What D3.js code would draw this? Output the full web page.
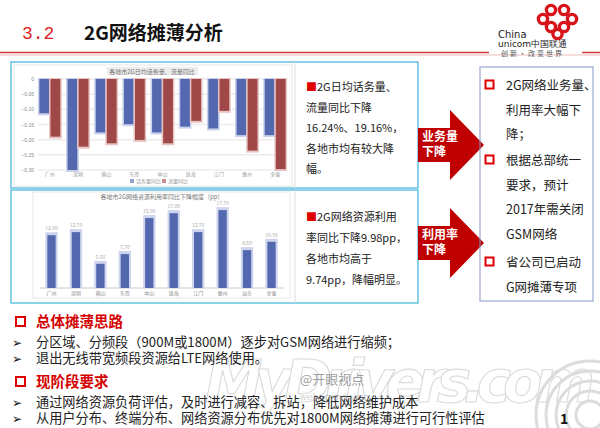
<!DOCTYPE html>
<html>
<head>
<meta charset="utf-8">
<script src="https://cdn.jsdelivr.net/npm/d3@7"></script>
<style>
  body { margin: 0; background: #fff; }
  svg { display: block; font-family: "Noto Sans CJK SC", sans-serif; }
</style>
</head>
<body>
<div id="slide"></div>
<script>
// chart 1: 2G traffic yoy by city (blurred in source, values estimated)
var cities1 = ["广州", "深圳", "佛山", "东莞", "中山", "珠海", "江门", "惠州", "全省"];
var voiceYoY = [-11.3, -30.0, -17.6, -14.9, -17.6, -15.7, -16.3, -18.5, -18.5];
var dataYoY = [-19.0, -22.3, -21.2, -20.1, -21.2, -13.8, -10.5, -23.6, -29.7];
var yTicks1 = [0, -5, -10, -15, -20, -25, -30];

// chart 2: 2G utilisation drop (pp)
var cities2 = ["广州", "深圳", "佛山", "东莞", "中山", "珠海", "江门", "惠州", "汕头", "全省"];
var utilDrop = [12.0, 12.7, 5.5, 7.7, 15.9, 17.0, 12.7, 17.7, 8.6, 10.5];

var box1Text = ["■2G日均话务量、", "流量同比下降", "16.24%、19.16%，", "各地市均有较大降", "幅。"];
var box2Text = ["■2G网络资源利用", "率同比下降9.98pp，", "各地市均高于", "9.74pp，降幅明显。"];
var rightItems = [["2G网络业务量、", "利用率大幅下", "降；"], ["根据总部统一", "要求，预计", "2017年需关闭", "GSM网络"], ["省公司已启动", "G网摊薄专项"]];
var section1 = ["分区域、分频段（900M或1800M）逐步对GSM网络进行缩频；", "退出无线带宽频段资源给LTE网络使用。"];
var section2 = ["通过网络资源负荷评估，及时进行减容、拆站，降低网络维护成本", "从用户分布、终端分布、网络资源分布优先对1800M网络摊薄进行可行性评估"];

var W = 600, H = 428;
var svg = d3.select("#slide").append("svg").attr("width", W).attr("height", H);

// ---- header ----
svg.append("text").attr("x", 22).attr("y", 39).attr("fill", "#e02020")
    .style("font-size", "18px").style("font-family", "Liberation Mono, monospace").text("3.2");
svg.append("text").attr("x", 84).attr("y", 40).attr("fill", "#111")
    .style("font-size", "19px").style("font-weight", "bold").text("2G网络摊薄分析");
svg.append("line").attr("x1", 0).attr("x2", 489).attr("y1", 52.5).attr("y2", 52.5).attr("stroke", "#d43a3a").attr("stroke-width", 1.5);
svg.append("line").attr("x1", 582).attr("x2", 600).attr("y1", 52.5).attr("y2", 52.5).attr("stroke", "#d43a3a").attr("stroke-width", 1.5);
svg.append("line").attr("x1", 0).attr("x2", 600).attr("y1", 55).attr("y2", 55).attr("stroke", "#f6dede").attr("stroke-width", 2);

// logo
var logo = svg.append("g").attr("fill", "none").attr("stroke", "#d7141a").attr("stroke-width", 3.4);
[[551, 10], [564, 10], [543, 19], [572, 19], [551, 27], [564, 27], [557.5, 34]].forEach(function (c) {
    logo.append("circle").attr("cx", c[0]).attr("cy", c[1]).attr("r", 4.6);
});
svg.append("text").attr("x", 498).attr("y", 38).style("font-size", "10px").style("font-family", "DejaVu Sans").attr("fill", "#222").text("China");
svg.append("text").attr("x", 498).attr("y", 47).style("font-size", "9px").style("font-family", "DejaVu Sans").attr("fill", "#222").text("unicom中国联通");
svg.append("text").attr("x", 501).attr("y", 56).style("font-size", "7px").attr("fill", "#555").attr("letter-spacing", "2px").text("创新·改变世界");

// ---- panel boxes ----
var cyan = "#4db8dc";
svg.append("rect").attr("x", 11).attr("y", 62).attr("width", 407).attr("height", 126).attr("fill", "none").attr("stroke", cyan).attr("stroke-width", 1.3);
svg.append("rect").attr("x", 11).attr("y", 190).attr("width", 407).attr("height", 113).attr("fill", "none").attr("stroke", cyan).attr("stroke-width", 1.3);
svg.append("line").attr("x1", 295).attr("x2", 295).attr("y1", 62).attr("y2", 188).attr("stroke", "#ddd");
svg.append("line").attr("x1", 295).attr("x2", 295).attr("y1", 190).attr("y2", 303).attr("stroke", "#ddd");

// ---- chart 1 ----
var c1 = svg.append("g");
c1.append("rect").attr("x", 14).attr("y", 65).attr("width", 278).attr("height", 121).attr("fill", "none").attr("stroke", "#e6e6e6");
var y1 = d3.scaleLinear().domain([0, -30]).range([79, 170]);
var x1 = d3.scaleBand().domain(cities1).range([38, 287]).paddingInner(0.26).paddingOuter(0.05);
var xs1 = d3.scaleBand().domain(["v", "d"]).range([0, x1.bandwidth()]).paddingInner(0.12);

c1.selectAll(".grid1").data(yTicks1).enter().append("line")
    .attr("x1", 38).attr("x2", 287).attr("y1", function (d) { return y1(d); }).attr("y2", function (d) { return y1(d); })
    .attr("stroke", "#ececec").attr("stroke-width", 1.5);
var ax1 = c1.append("g").attr("transform", "translate(38,0)")
    .call(d3.axisLeft(y1).tickValues(yTicks1).tickSize(0).tickPadding(4).tickFormat(function (d) { return d === 0 ? "0" : d3.format(".2f")(d / 100); }));
ax1.select(".domain").remove();
ax1.selectAll("text").attr("fill", "#888").style("font-size", "5px");

function drawPairs(vals, key, col, halo) {
    var g = c1.append("g");
    g.selectAll("rect.h").data(vals).enter().append("rect")
        .attr("x", function (d, i) { return x1(cities1[i]) + xs1(key) - 1.5; })
        .attr("width", xs1.bandwidth() + 3)
        .attr("y", y1(0) - 1)
        .attr("height", function (d) { return y1(d) - y1(0) + 3; })
        .attr("fill", halo);
    g.selectAll("rect.b").data(vals).enter().append("rect")
        .attr("x", function (d, i) { return x1(cities1[i]) + xs1(key); })
        .attr("width", xs1.bandwidth())
        .attr("y", y1(0))
        .attr("height", function (d) { return y1(d) - y1(0); })
        .attr("fill", col);
}
drawPairs(voiceYoY, "v", "#5468b0", "#c9d1ec");
drawPairs(dataYoY, "d", "#a04848", "#e8c4c4");

c1.selectAll(".xl1").data(cities1).enter().append("text")
    .attr("x", function (d) { return x1(d) + x1.bandwidth() / 2; }).attr("y", 176)
    .attr("text-anchor", "middle").attr("fill", "#999").style("font-size", "5px").text(function (d) { return d; });
c1.append("rect").attr("x", 107).attr("y", 67).attr("width", 91).attr("height", 8).attr("fill", "#ececec");
c1.append("text").attr("x", 152).attr("y", 73.5).attr("text-anchor", "middle").attr("fill", "#777").style("font-size", "6px").text("各地市2G日均话务量、流量同比");
// legend
var lg = c1.append("g").attr("transform", "translate(130,182)");
[["#5468b0", "话务量同比"], ["#a04848", "流量同比"]].forEach(function (l, i) {
    lg.append("rect").attr("x", i * 32).attr("y", -3).attr("width", 4).attr("height", 4).attr("fill", l[0]).attr("opacity", 0.6);
    lg.append("text").attr("x", i * 32 + 6).attr("y", 1).attr("fill", "#999").style("font-size", "5px").text(l[1]);
});

// ---- chart 2 ----
var c2 = svg.append("g");
c2.append("rect").attr("x", 33).attr("y", 192).attr("width", 257).attr("height", 106).attr("fill", "none").attr("stroke", "#e8e8e8");
var y2 = d3.scaleLinear().domain([0, 20]).range([288, 200]);
var x2 = d3.scaleBand().domain(cities2).range([40, 283]).paddingInner(0.66).paddingOuter(0.3);
c2.append("line").attr("x1", 40).attr("x2", 284).attr("y1", y2(0)).attr("y2", y2(0)).attr("stroke", "#e4e4e4").attr("stroke-width", 2);
c2.selectAll("rect.h").data(utilDrop).enter().append("rect")
    .attr("x", function (d, i) { return x2(cities2[i]) - 2; })
    .attr("width", x2.bandwidth() + 4)
    .attr("y", function (d) { return y2(d) - 3; })
    .attr("height", function (d) { return y2(0) - y2(d) + 3; })
    .attr("fill", "#cdd4ee");
c2.selectAll("rect.b").data(utilDrop).enter().append("rect")
    .attr("x", function (d, i) { return x2(cities2[i]); })
    .attr("width", x2.bandwidth())
    .attr("y", function (d) { return y2(d); })
    .attr("height", function (d) { return y2(0) - y2(d); })
    .attr("fill", "#5468b0");
c2.selectAll(".vl").data(utilDrop).enter().append("text")
    .attr("x", function (d, i) { return x2(cities2[i]) + x2.bandwidth() / 2; })
    .attr("y", function (d) { return y2(d) - 5; })
    .attr("text-anchor", "middle").attr("fill", "#aaa").style("font-size", "5px")
    .text(function (d) { return d.toFixed(2); });
c2.selectAll(".xl2").data(cities2).enter().append("text")
    .attr("x", function (d) { return x2(d) + x2.bandwidth() / 2; }).attr("y", 295)
    .attr("text-anchor", "middle").attr("fill", "#888").style("font-size", "5px").text(function (d) { return d; });
c2.append("text").attr("x", 162).attr("y", 199).attr("text-anchor", "middle").attr("fill", "#777").style("font-size", "6px")
    .text("各地市2G网络资源利用率同比下降幅度（pp）");

// ---- text boxes ----
function lines(arr, x, y0, dy, size) {
    arr.forEach(function (s, i) {
        var t = svg.append("text").attr("x", x).attr("y", y0 + i * dy).attr("fill", "#222").style("font-size", size + "px");
        if (s[0] === "■") {
            t.append("tspan").attr("fill", "#e00000").text("■");
            t.append("tspan").text(s.slice(1));
        } else t.text(s);
    });
}
lines(box1Text, 306, 91, 20.5, 11);
lines(box2Text, 306, 221, 21, 11);

// ---- arrows ----
function arrow(cy, label) {
    var p = d3.path();
    p.moveTo(418, cy - 17); p.lineTo(450, cy - 17); p.lineTo(450, cy - 35); p.lineTo(484, cy);
    p.lineTo(450, cy + 35); p.lineTo(450, cy + 17); p.lineTo(418, cy + 17); p.closePath();
    svg.append("path").attr("d", p.toString()).attr("fill", "#c00000");
    label.forEach(function (s, i) {
        svg.append("text").attr("x", 422).attr("y", cy - 4 + i * 15).attr("fill", "#fff")
            .style("font-size", "12px").style("font-weight", "bold").text(s);
    });
}
arrow(145, ["业务量", "下降"]);
arrow(243, ["利用率", "下降"]);

// ---- right box ----
svg.append("rect").attr("x", 480).attr("y", 67).attr("width", 113).attr("height", 234).attr("fill", "none").attr("stroke", "#8595c8").attr("stroke-width", 1);
var ry = [90, 165, 267];
var rowH = 24.5;
rightItems.forEach(function (item, k) {
    svg.append("rect").attr("x", 485.5).attr("y", ry[k] - 9.5).attr("width", 8).attr("height", 8)
        .attr("fill", "none").attr("stroke", "#e00000").attr("stroke-width", 2);
    item.forEach(function (s, i) {
        svg.append("text").attr("x", 506).attr("y", ry[k] + i * rowH).attr("fill", "#222").style("font-size", "12.5px").text(s);
    });
});

// ---- watermark ----
svg.append("text").attr("x", 205).attr("y", 402).attr("fill", "#fff").attr("stroke", "#dadada").attr("stroke-width", 1.1)
    .style("font-size", "58px").style("font-style", "italic").style("font-weight", "bold").style("font-family", "DejaVu Sans")
    .attr("textLength", 390).text("MyDrivers.com");
var arcs = svg.append("g").attr("fill", "none").attr("stroke", "#dcdcdc").attr("stroke-width", 3);
[14, 24, 34, 44, 54].forEach(function (r) {
    arcs.append("circle").attr("cx", 590).attr("cy", 415).attr("r", r);
});

// ---- bottom sections ----
function section(y, title, items) {
    svg.append("rect").attr("x", 16).attr("y", y - 10).attr("width", 9).attr("height", 9).attr("fill", "none").attr("stroke", "#e00000").attr("stroke-width", 2);
    svg.append("text").attr("x", 36).attr("y", y).attr("fill", "#d40000").style("font-size", "14.5px").style("font-weight", "bold").text(title);
    items.forEach(function (s, i) {
        var yy = y + 20 + i * 15.5;
        svg.append("text").attr("x", 12).attr("y", yy).attr("fill", "#111").style("font-size", "12px").style("font-family", "DejaVu Sans").text("➢");
        svg.append("text").attr("x", 36).attr("y", yy).attr("fill", "#222").style("font-size", "13.2px").text(s);
    });
}
section(327, "总体摊薄思路", section1);
section(387, "现阶段要求", section2);

svg.append("text").attr("x", 300).attr("y", 384).attr("fill", "#888").style("font-size", "13px").attr("opacity", 0.8).text("@开眼视点");
svg.append("text").attr("x", 300).attr("y", 400).attr("fill", "#aaa").style("font-size", "8px").attr("opacity", 0.6).text("weibo.com/kaiyan");

svg.append("text").attr("x", 560).attr("y", 424).attr("fill", "#111").style("font-size", "14px").style("font-weight", "bold").text("1");
</script>
</body>
</html>
